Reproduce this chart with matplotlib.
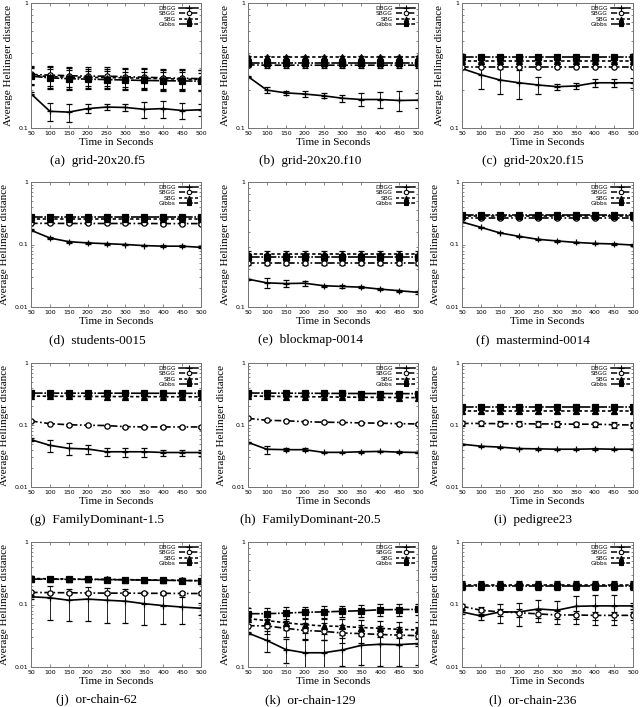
import matplotlib
matplotlib.use('Agg')
import matplotlib.pyplot as plt
from matplotlib.lines import Line2D
from matplotlib.ticker import FixedLocator, FuncFormatter, LogLocator, NullFormatter

# x axis: time in seconds
times = [50, 100, 150, 200, 250, 300, 350, 400, 450, 500]

# ---- (a) grid-20x20.f5
a_dbgg = [0.188, 0.136, 0.134, 0.143, 0.147, 0.146, 0.141, 0.143, 0.138, 0.140]
a_dbgg_err = [0.005, 0.022, 0.022, 0.012, 0.008, 0.010, 0.020, 0.022, 0.020, 0.016]
a_sbgg = [0.268, 0.265, 0.262, 0.260, 0.260, 0.257, 0.255, 0.252, 0.250, 0.248]
a_sbgg_err = [0.045, 0.050, 0.048, 0.045, 0.045, 0.045, 0.045, 0.045, 0.045, 0.045]
a_sbg = [0.264, 0.258, 0.255, 0.254, 0.253, 0.252, 0.250, 0.248, 0.246, 0.245]
a_sbg_err = [0.045, 0.050, 0.048, 0.045, 0.045, 0.045, 0.045, 0.045, 0.045, 0.045]
a_gibbs = [0.260, 0.252, 0.248, 0.246, 0.244, 0.242, 0.240, 0.239, 0.238, 0.237]
a_gibbs_err = [0.040, 0.045, 0.045, 0.040, 0.040, 0.040, 0.040, 0.040, 0.040, 0.040]

# ---- (b) grid-20x20.f10
b_dbgg = [0.258, 0.201, 0.191, 0.187, 0.181, 0.173, 0.169, 0.169, 0.166, 0.167]
b_dbgg_err = [0.004, 0.010, 0.006, 0.010, 0.008, 0.012, 0.020, 0.025, 0.030, 0.022]
b_sbgg = [0.320, 0.318, 0.318, 0.318, 0.318, 0.318, 0.318, 0.318, 0.318, 0.318]
b_sbgg_err = [0.015, 0.015, 0.015, 0.015, 0.015, 0.015, 0.015, 0.015, 0.015, 0.015]
b_sbg = [0.367, 0.367, 0.367, 0.367, 0.367, 0.367, 0.367, 0.367, 0.367, 0.367]
b_sbg_err = [0.012, 0.012, 0.012, 0.012, 0.012, 0.012, 0.012, 0.012, 0.012, 0.012]
b_gibbs = [0.334, 0.334, 0.334, 0.334, 0.334, 0.334, 0.334, 0.334, 0.334, 0.334]
b_gibbs_err = [0.015, 0.015, 0.015, 0.015, 0.015, 0.015, 0.015, 0.015, 0.015, 0.015]

# ---- (c) grid-20x20.f15
c_dbgg = [0.299, 0.266, 0.242, 0.230, 0.221, 0.214, 0.217, 0.230, 0.230, 0.230]
c_dbgg_err = [0.004, 0.060, 0.055, 0.060, 0.035, 0.012, 0.012, 0.018, 0.018, 0.020]
c_sbgg = [0.310, 0.310, 0.310, 0.310, 0.310, 0.310, 0.310, 0.310, 0.310, 0.310]
c_sbgg_err = [0.005, 0.005, 0.005, 0.005, 0.005, 0.005, 0.005, 0.005, 0.005, 0.005]
c_sbg = [0.345, 0.345, 0.345, 0.345, 0.345, 0.345, 0.345, 0.345, 0.345, 0.345]
c_sbg_err = [0.005, 0.005, 0.005, 0.005, 0.005, 0.005, 0.005, 0.005, 0.005, 0.005]
c_gibbs = [0.372, 0.372, 0.372, 0.372, 0.372, 0.372, 0.372, 0.372, 0.372, 0.372]
c_gibbs_err = [0.005, 0.005, 0.005, 0.005, 0.005, 0.005, 0.005, 0.005, 0.005, 0.005]

# ---- (d) students-0015
d_dbgg = [0.169, 0.127, 0.111, 0.106, 0.103, 0.100, 0.096, 0.094, 0.094, 0.090]
d_dbgg_err = [0.006, 0.006, 0.004, 0.003, 0.003, 0.003, 0.003, 0.003, 0.003, 0.003]
d_sbgg = [0.218, 0.218, 0.217, 0.217, 0.217, 0.217, 0.217, 0.216, 0.216, 0.216]
d_sbgg_err = [0.008, 0.008, 0.008, 0.008, 0.008, 0.008, 0.008, 0.008, 0.008, 0.008]
d_sbg = [0.256, 0.256, 0.256, 0.256, 0.256, 0.256, 0.256, 0.256, 0.256, 0.256]
d_sbg_err = [0.008, 0.008, 0.008, 0.008, 0.008, 0.008, 0.008, 0.008, 0.008, 0.008]
d_gibbs = [0.272, 0.272, 0.272, 0.272, 0.272, 0.272, 0.272, 0.272, 0.272, 0.272]
d_gibbs_err = [0.008, 0.008, 0.008, 0.008, 0.008, 0.008, 0.008, 0.008, 0.008, 0.008]

# ---- (e) blockmap-0014
e_dbgg = [0.167, 0.156, 0.154, 0.155, 0.148, 0.146, 0.144, 0.139, 0.135, 0.131]
e_dbgg_err = [0.002, 0.014, 0.009, 0.007, 0.003, 0.003, 0.003, 0.003, 0.003, 0.003]
e_sbgg = [0.226, 0.226, 0.226, 0.226, 0.226, 0.226, 0.226, 0.226, 0.226, 0.226]
e_sbgg_err = [0.010, 0.010, 0.010, 0.010, 0.010, 0.010, 0.010, 0.010, 0.010, 0.010]
e_sbg = [0.267, 0.267, 0.267, 0.267, 0.267, 0.267, 0.267, 0.267, 0.267, 0.267]
e_sbg_err = [0.015, 0.015, 0.015, 0.015, 0.015, 0.015, 0.015, 0.015, 0.015, 0.015]
e_gibbs = [0.249, 0.249, 0.249, 0.249, 0.249, 0.249, 0.249, 0.249, 0.249, 0.249]
e_gibbs_err = [0.015, 0.015, 0.015, 0.015, 0.015, 0.015, 0.015, 0.015, 0.015, 0.015]

# ---- (f) mastermind-0014
f_dbgg = [0.229, 0.188, 0.153, 0.135, 0.121, 0.114, 0.108, 0.104, 0.102, 0.098]
f_dbgg_err = [0.003, 0.003, 0.003, 0.003, 0.003, 0.003, 0.003, 0.003, 0.003, 0.003]
f_sbgg = [0.265, 0.265, 0.265, 0.265, 0.265, 0.265, 0.265, 0.265, 0.265, 0.265]
f_sbgg_err = [0.006, 0.006, 0.006, 0.006, 0.006, 0.006, 0.006, 0.006, 0.006, 0.006]
f_sbg = [0.285, 0.285, 0.285, 0.285, 0.285, 0.285, 0.285, 0.285, 0.285, 0.285]
f_sbg_err = [0.006, 0.006, 0.006, 0.006, 0.006, 0.006, 0.006, 0.006, 0.006, 0.006]
f_gibbs = [0.293, 0.293, 0.293, 0.293, 0.293, 0.293, 0.293, 0.293, 0.293, 0.293]
f_gibbs_err = [0.006, 0.006, 0.006, 0.006, 0.006, 0.006, 0.006, 0.006, 0.006, 0.006]

# ---- (g) FamilyDominant-1.5
g_dbgg = [0.058, 0.047, 0.042, 0.041, 0.037, 0.037, 0.037, 0.036, 0.036, 0.036]
g_dbgg_err = [0.003, 0.010, 0.009, 0.007, 0.005, 0.006, 0.006, 0.004, 0.004, 0.004]
g_sbgg = [0.116, 0.105, 0.101, 0.099, 0.098, 0.094, 0.093, 0.093, 0.093, 0.093]
g_sbgg_err = [0.003, 0.003, 0.003, 0.003, 0.003, 0.003, 0.003, 0.003, 0.003, 0.003]
g_sbg = [0.292, 0.291, 0.290, 0.289, 0.288, 0.287, 0.286, 0.286, 0.285, 0.285]
g_sbg_err = [0.010, 0.010, 0.010, 0.010, 0.010, 0.010, 0.010, 0.010, 0.010, 0.010]
g_gibbs = [0.327, 0.327, 0.326, 0.326, 0.326, 0.326, 0.325, 0.325, 0.325, 0.325]
g_gibbs_err = [0.010, 0.010, 0.010, 0.010, 0.010, 0.010, 0.010, 0.010, 0.010, 0.010]

# ---- (h) FamilyDominant-20.5
h_dbgg = [0.0525, 0.0406, 0.040, 0.040, 0.0362, 0.0362, 0.037, 0.0375, 0.0365, 0.036]
h_dbgg_err = [0.001, 0.006, 0.002, 0.002, 0.001, 0.001, 0.001, 0.001, 0.001, 0.001]
h_sbgg = [0.128, 0.119, 0.117, 0.113, 0.111, 0.110, 0.108, 0.107, 0.105, 0.104]
h_sbgg_err = [0.003, 0.003, 0.003, 0.003, 0.003, 0.003, 0.003, 0.003, 0.003, 0.003]
h_sbg = [0.294, 0.290, 0.288, 0.286, 0.284, 0.282, 0.280, 0.279, 0.277, 0.276]
h_sbg_err = [0.008, 0.008, 0.008, 0.008, 0.008, 0.008, 0.008, 0.008, 0.008, 0.008]
h_gibbs = [0.328, 0.327, 0.326, 0.325, 0.324, 0.323, 0.322, 0.322, 0.321, 0.320]
h_gibbs_err = [0.008, 0.008, 0.008, 0.008, 0.008, 0.008, 0.008, 0.008, 0.008, 0.008]

# ---- (i) pedigree23
i_dbgg = [0.049, 0.0455, 0.044, 0.0417, 0.0412, 0.0407, 0.0407, 0.0412, 0.0407, 0.0407]
i_dbgg_err = [0.001, 0.001, 0.001, 0.001, 0.001, 0.001, 0.001, 0.002, 0.001, 0.001]
i_sbgg = [0.106, 0.106, 0.105, 0.105, 0.104, 0.104, 0.103, 0.103, 0.101, 0.100]
i_sbgg_err = [0.010, 0.010, 0.010, 0.010, 0.010, 0.010, 0.010, 0.010, 0.010, 0.010]
i_sbg = [0.168, 0.168, 0.168, 0.168, 0.168, 0.168, 0.168, 0.168, 0.168, 0.168]
i_sbg_err = [0.010, 0.010, 0.010, 0.010, 0.010, 0.010, 0.010, 0.010, 0.010, 0.010]
i_gibbs = [0.197, 0.197, 0.197, 0.197, 0.197, 0.197, 0.197, 0.197, 0.197, 0.197]
i_gibbs_err = [0.010, 0.010, 0.010, 0.010, 0.010, 0.010, 0.010, 0.010, 0.010, 0.010]

# ---- (j) or-chain-62
j_dbgg = [0.133, 0.128, 0.117, 0.122, 0.117, 0.113, 0.103, 0.096, 0.091, 0.087]
j_dbgg_err = [0.010, 0.072, 0.062, 0.068, 0.066, 0.062, 0.056, 0.048, 0.042, 0.020]
j_sbgg = [0.156, 0.155, 0.154, 0.153, 0.152, 0.152, 0.151, 0.151, 0.150, 0.150]
j_sbgg_err = [0.006, 0.006, 0.006, 0.006, 0.006, 0.006, 0.006, 0.006, 0.006, 0.006]
j_sbg = [0.260, 0.258, 0.256, 0.254, 0.252, 0.250, 0.248, 0.246, 0.243, 0.240]
j_sbg_err = [0.020, 0.020, 0.020, 0.020, 0.020, 0.020, 0.020, 0.020, 0.020, 0.020]
j_gibbs = [0.255, 0.254, 0.253, 0.252, 0.250, 0.248, 0.246, 0.244, 0.242, 0.240]
j_gibbs_err = [0.020, 0.020, 0.020, 0.020, 0.020, 0.020, 0.020, 0.020, 0.020, 0.020]

# ---- (k) or-chain-129
k_dbgg = [0.187, 0.163, 0.138, 0.130, 0.130, 0.137, 0.149, 0.152, 0.151, 0.154]
k_dbgg_err = [0.005, 0.030, 0.030, 0.035, 0.035, 0.035, 0.045, 0.050, 0.050, 0.050]
k_sbgg = [0.214, 0.213, 0.204, 0.196, 0.193, 0.187, 0.185, 0.182, 0.180, 0.178]
k_sbgg_err = [0.030, 0.030, 0.030, 0.030, 0.030, 0.030, 0.030, 0.030, 0.030, 0.030]
k_sbg = [0.244, 0.235, 0.226, 0.218, 0.213, 0.211, 0.207, 0.204, 0.200, 0.198]
k_sbg_err = [0.030, 0.030, 0.030, 0.030, 0.030, 0.030, 0.030, 0.030, 0.030, 0.030]
k_gibbs = [0.267, 0.267, 0.270, 0.274, 0.276, 0.279, 0.282, 0.287, 0.288, 0.289]
k_gibbs_err = [0.030, 0.030, 0.030, 0.030, 0.030, 0.030, 0.030, 0.030, 0.030, 0.030]

# ---- (l) or-chain-236
l_dbgg = [0.076, 0.0655, 0.076, 0.076, 0.0848, 0.081, 0.0935, 0.095, 0.095, 0.095]
l_dbgg_err = [0.005, 0.010, 0.025, 0.030, 0.032, 0.032, 0.045, 0.048, 0.048, 0.010]
l_sbgg = [0.0935, 0.081, 0.076, 0.074, 0.0707, 0.068, 0.068, 0.067, 0.067, 0.067]
l_sbgg_err = [0.010, 0.010, 0.010, 0.010, 0.010, 0.010, 0.010, 0.010, 0.010, 0.010]
l_sbg = [0.205, 0.205, 0.205, 0.205, 0.205, 0.205, 0.205, 0.205, 0.205, 0.205]
l_sbg_err = [0.030, 0.030, 0.030, 0.030, 0.030, 0.030, 0.030, 0.030, 0.030, 0.030]
l_gibbs = [0.200, 0.200, 0.200, 0.200, 0.200, 0.200, 0.200, 0.200, 0.200, 0.200]
l_gibbs_err = [0.030, 0.030, 0.030, 0.030, 0.030, 0.030, 0.030, 0.030, 0.030, 0.030]

captions = ['(a)  grid-20x20.f5', '(b)  grid-20x20.f10', '(c)  grid-20x20.f15',
            '(d)  students-0015', '(e)  blockmap-0014', '(f)  mastermind-0014',
            '(g)  FamilyDominant-1.5', '(h)  FamilyDominant-20.5', '(i)  pedigree23',
            '(j)  or-chain-62', '(k)  or-chain-129', '(l)  or-chain-236']
y_lows = [0.1, 0.1, 0.1, 0.01, 0.1, 0.01, 0.01, 0.01, 0.01, 0.01, 0.1, 0.01]

panels = [
    (a_dbgg, a_dbgg_err, a_sbgg, a_sbgg_err, a_sbg, a_sbg_err, a_gibbs, a_gibbs_err),
    (b_dbgg, b_dbgg_err, b_sbgg, b_sbgg_err, b_sbg, b_sbg_err, b_gibbs, b_gibbs_err),
    (c_dbgg, c_dbgg_err, c_sbgg, c_sbgg_err, c_sbg, c_sbg_err, c_gibbs, c_gibbs_err),
    (d_dbgg, d_dbgg_err, d_sbgg, d_sbgg_err, d_sbg, d_sbg_err, d_gibbs, d_gibbs_err),
    (e_dbgg, e_dbgg_err, e_sbgg, e_sbgg_err, e_sbg, e_sbg_err, e_gibbs, e_gibbs_err),
    (f_dbgg, f_dbgg_err, f_sbgg, f_sbgg_err, f_sbg, f_sbg_err, f_gibbs, f_gibbs_err),
    (g_dbgg, g_dbgg_err, g_sbgg, g_sbgg_err, g_sbg, g_sbg_err, g_gibbs, g_gibbs_err),
    (h_dbgg, h_dbgg_err, h_sbgg, h_sbgg_err, h_sbg, h_sbg_err, h_gibbs, h_gibbs_err),
    (i_dbgg, i_dbgg_err, i_sbgg, i_sbgg_err, i_sbg, i_sbg_err, i_gibbs, i_gibbs_err),
    (j_dbgg, j_dbgg_err, j_sbgg, j_sbgg_err, j_sbg, j_sbg_err, j_gibbs, j_gibbs_err),
    (k_dbgg, k_dbgg_err, k_sbgg, k_sbgg_err, k_sbg, k_sbg_err, k_gibbs, k_gibbs_err),
    (l_dbgg, l_dbgg_err, l_sbgg, l_sbgg_err, l_sbg, l_sbg_err, l_gibbs, l_gibbs_err),
]

series_names = ['DBGG', 'SBGG', 'SBG', 'Gibbs']
# style of each method: (linestyle, marker, marker face)
styles = [
    ('-', '+', 'black'),
    ((0, (4, 1.5, 1, 1.5)), 'o', 'white'),
    ((0, (2, 1.5)), '^', 'black'),
    ((0, (7, 1, 1, 1)), 's', 'black'),
]

# pixel layout of the panels (figure is 640 x 707 px)
W, H = 640, 707
col_px = [(31, 201), (248, 418), (462, 633)]
row_px = [(3, 128), (182, 307), (363, 487), (542, 667)]
caption_x = [97, 310, 533]

serif = 'Liberation Serif'
fig = plt.figure(figsize=(6.4, 7.07), dpi=100)

for idx, data in enumerate(panels):
    r, c = divmod(idx, 3)
    L, R = col_px[c]
    T, B = row_px[r]
    ax = fig.add_axes([L / W, 1 - B / H, (R - L) / W, (B - T) / H])

    for s in range(4):
        ls, mk, mfc = styles[s]
        vals, errs = data[2 * s], data[2 * s + 1]
        ax.errorbar(times, vals, yerr=errs, color='black', linestyle=ls, linewidth=1.2,
                    marker=mk, markersize=3.8 if mk != '+' else 4.5,
                    markerfacecolor=mfc, markeredgecolor='black', markeredgewidth=0.9,
                    elinewidth=0.6, capsize=2, capthick=0.6)

    ax.set_yscale('log')
    ax.set_ylim(y_lows[idx], 1)
    ax.set_xlim(50, 500)
    ax.xaxis.set_major_locator(FixedLocator(times))
    ax.yaxis.set_major_locator(LogLocator(base=10))
    ax.yaxis.set_minor_locator(LogLocator(base=10, subs=range(2, 10)))
    ax.yaxis.set_major_formatter(FuncFormatter(lambda v, p: '%g' % v))
    ax.yaxis.set_minor_formatter(NullFormatter())
    ax.tick_params(which='both', direction='in', top=True, right=True,
                   labelsize=4.5, pad=2, color='0.35', width=0.5)
    ax.tick_params(which='major', length=2.5)
    ax.tick_params(which='minor', length=1.3)
    for sp in ax.spines.values():
        sp.set_color('0.45')
        sp.set_linewidth(0.7)

    ax.set_xlabel('Time in Seconds', fontsize=8, family=serif, labelpad=1.5)
    ax.set_ylabel('Average Hellinger distance', fontsize=8, family=serif, labelpad=4)

    handles = []
    for s in range(4):
        ls, mk, mfc = styles[s]
        handles.append(Line2D([], [], color='black', linestyle=ls, linewidth=1.1, marker=mk,
                              markersize=3.2 if mk != '+' else 4, markerfacecolor=mfc,
                              markeredgecolor='black', markeredgewidth=0.8))
    ax.legend(handles, series_names, loc='upper right', frameon=False, fontsize=4.2,
              markerfirst=False, handlelength=3.2, handletextpad=0.6, labelspacing=0.05,
              borderaxespad=0.3, borderpad=0.2)

    fig.text(caption_x[c] / W, 1 - (B + 33) / H, captions[idx], ha='center', va='center',
             fontsize=9.5, family=serif)

fig.savefig('out.png', dpi=100)
